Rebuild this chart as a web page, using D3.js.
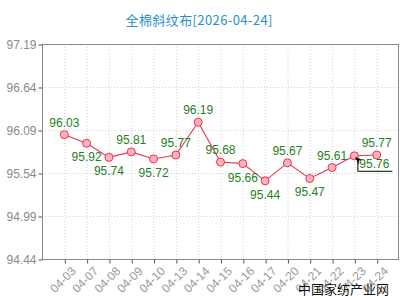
<!DOCTYPE html>
<html>
<head>
<meta charset="utf-8">
<script src="https://d3js.org/d3.v7.min.js"></script>
<style>
  body { margin: 0; background: #fff; }
  text { font-family: "Liberation Sans", Arial, sans-serif; }
</style>
</head>
<body>
<div id="chart"></div>
<script>
// data
var dates = ["04-03", "04-07", "04-08", "04-09", "04-10", "04-13", "04-14", "04-15",
             "04-16", "04-17", "04-20", "04-21", "04-22", "04-23", "04-24"];
var prices = [96.03, 95.92, 95.74, 95.81, 95.72, 95.77, 96.19, 95.68,
              95.66, 95.44, 95.67, 95.47, 95.61, 95.76, 95.77];
var yTicks = [94.44, 94.99, 95.54, 96.09, 96.64, 97.19];
var title = "全棉斜纹布[2026-04-24]";
// label side per point: 1 above, -1 below, 0 callout
var labelSide = [1, -1, -1, 1, -1, 1, 1, 1, -1, -1, 1, -1, 1, 0, 1];

var width = 400, height = 300;
var margin = { left: 42, top: 44, right: 1, bottom: 41 };

var svg = d3.select("#chart").append("svg")
    .attr("width", width)
    .attr("height", height);

var x = d3.scalePoint()
    .domain(dates)
    .range([margin.left, width - margin.right])
    .padding(1);

var y = d3.scaleLinear()
    .domain([94.44, 97.19])
    .range([height - margin.bottom, margin.top]);

// title
svg.append("text")
    .attr("x", 199)
    .attr("y", 25)
    .attr("text-anchor", "middle")
    .attr("textLength", 147)
    .style("font-family", "'Noto Sans CJK SC', sans-serif")
    .style("font-size", "13px")
    .style("fill", "#2a8fc8")
    .text(title);

// grid
svg.append("g").selectAll("line")
    .data(dates)
    .enter().append("line")
    .attr("x1", function(d) { return x(d) + 0.5; })
    .attr("x2", function(d) { return x(d) + 0.5; })
    .attr("y1", margin.top)
    .attr("y2", height - margin.bottom)
    .attr("stroke", "#d0d0d0")
    .attr("stroke-dasharray", "1,2");

svg.append("g").selectAll("line")
    .data(yTicks)
    .enter().append("line")
    .attr("x1", margin.left)
    .attr("x2", width - margin.right)
    .attr("y1", function(d) { return Math.round(y(d)) + 0.5; })
    .attr("y2", function(d) { return Math.round(y(d)) + 0.5; })
    .attr("stroke", "#d0d0d0")
    .attr("stroke-dasharray", "1,2");

// frame
svg.append("rect")
    .attr("x", margin.left + 0.5)
    .attr("y", margin.top + 0.5)
    .attr("width", width - margin.right - margin.left - 1)
    .attr("height", height - margin.bottom - margin.top)
    .attr("fill", "none")
    .attr("stroke", "#8a8a8a");

// y axis
var yAxis = svg.append("g")
    .attr("transform", "translate(" + (margin.left + 0.5) + ",0.5)")
    .call(d3.axisLeft(y).tickValues(yTicks).tickSize(4).tickSizeOuter(0)
        .tickFormat(d3.format(".2f")));
yAxis.select(".domain").remove();
yAxis.selectAll("line").attr("stroke", "#555");
yAxis.selectAll("text")
    .attr("x", -6)
    .style("font-size", "12px")
    .style("fill", "#8a8a8a")
    .style("font-family", "'Liberation Sans', Arial, sans-serif");

// x axis
var xAxis = svg.append("g")
    .attr("transform", "translate(0.5," + (height - margin.bottom + 0.5) + ")")
    .call(d3.axisBottom(x).tickSize(4).tickSizeOuter(0));
xAxis.select(".domain").remove();
xAxis.selectAll("line").attr("stroke", "#555");
xAxis.selectAll("text")
    .attr("text-anchor", "end")
    .attr("dy", "0")
    .attr("transform", "translate(5,6) rotate(-45)")
    .attr("y", 9)
    .attr("x", 0)
    .style("font-size", "12px")
    .style("fill", "#9a9a9a")
    .style("font-family", "'Liberation Sans', Arial, sans-serif");

// line
var line = d3.line()
    .x(function(d, i) { return x(dates[i]); })
    .y(function(d) { return y(d); });

svg.append("path")
    .datum(prices)
    .attr("d", line)
    .attr("fill", "none")
    .attr("stroke", "#e8334f")
    .attr("stroke-width", 1.1);

svg.append("g").selectAll("circle")
    .data(prices)
    .enter().append("circle")
    .attr("cx", function(d, i) { return x(dates[i]); })
    .attr("cy", function(d) { return y(d); })
    .attr("r", 4)
    .attr("fill", "#ffb3bd")
    .attr("stroke", "#e8334f")
    .attr("stroke-width", 1);

// value labels
svg.append("g").selectAll("text")
    .data(prices)
    .enter().append("text")
    .attr("x", function(d, i) { return labelSide[i] === 0 ? x(dates[i]) + 20 : x(dates[i]); })
    .attr("y", function(d, i) {
        if (labelSide[i] === 1) return y(d) - 8;
        if (labelSide[i] === -1) return y(d) + 18;
        return y(d) + 12;
    })
    .attr("text-anchor", "middle")
    .style("font-size", "12px")
    .style("fill", "#238023")
    .text(function(d) { return d.toFixed(2); });

// callout leader for the flagged point
var calloutIdx = labelSide.indexOf(0);
var cx0 = x(dates[calloutIdx]), cy0 = y(prices[calloutIdx]);
svg.append("path")
    .attr("d", "M" + (cx0 + 3.5) + "," + (cy0 + 5) + " V" + (cy0 + 15.5) + " H" + (cx0 + 38))
    .attr("fill", "none")
    .attr("stroke", "#000")
    .attr("stroke-width", 1);
svg.append("path")
    .attr("d", "M" + (cx0 + 0.5) + "," + (cy0 + 1) + " l7,3 l-3,1 l0,4 z")
    .attr("fill", "#000");

// watermark
svg.append("text")
    .attr("x", 389)
    .attr("y", 294)
    .attr("text-anchor", "end")
    .style("font-family", "'Noto Sans CJK SC', sans-serif")
    .style("font-size", "13px")
    .style("fill", "#111")
    .text("中国家纺产业网");
</script>
</body>
</html>
